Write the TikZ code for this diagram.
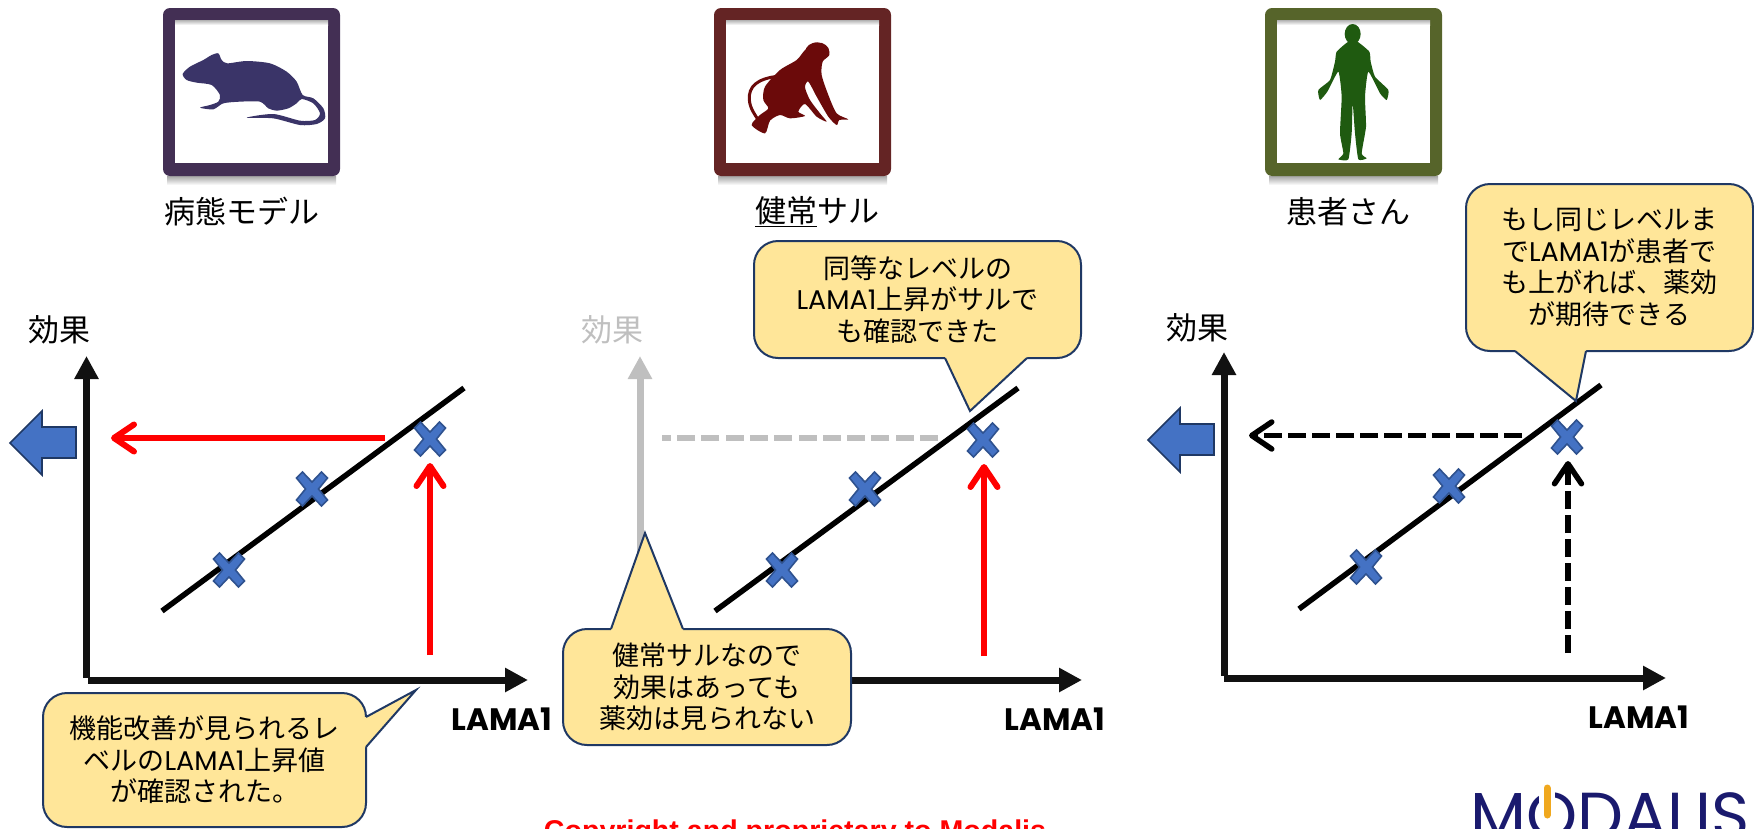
\documentclass[tikz,border=0pt]{standalone}
\usepackage{fontspec}
\setmainfont{Noto Sans CJK JP}
\newfontfamily\latinfont{Poppins}
\newfontfamily\arialfont{Liberation Sans}
\usetikzlibrary{arrows.meta}
\definecolor{calloutfill}{HTML}{FFE699}
\definecolor{calloutline}{HTML}{1F3864}
\definecolor{markblue}{HTML}{4472C4}
\definecolor{markline}{HTML}{2F528F}
\definecolor{axisblack}{HTML}{111111}
\definecolor{axisgrey}{HTML}{BFBFBF}
\definecolor{framerat}{HTML}{432F54}
\definecolor{framemonkey}{HTML}{642424}
\definecolor{framehuman}{HTML}{56642A}
\definecolor{ratfill}{HTML}{3A3468}
\definecolor{monkeyfill}{HTML}{6B0A0A}
\definecolor{humanfill}{HTML}{1F5A10}
\definecolor{logonavy}{HTML}{1A1A6E}
\definecolor{logoorange}{HTML}{F0A81E}
\newcommand{\lama}{{\latinfont LAMA1}}
\tikzset{
  axisline/.style={line width=7pt,axisblack,-{Triangle[length=23pt,width=23pt]}},
  fitline/.style={line width=5.5pt,black},
  guidered/.style={line width=6pt,red,-{Straight Barb[length=20pt,width=27pt,round]}},
  guideblack/.style={line width=5.5pt,black,dash pattern=on 18pt off 6pt,-{Straight Barb[length=20pt,width=27pt,round]}},
  crossmark/.pic={\draw[line width=1.6pt,markline,fill=markblue] (-9.5,-17) -- (0,-7) -- (9.5,-17) -- (15.5,-11) -- (6.5,0) -- (15.5,11) -- (9.5,17) -- (0,7) -- (-9.5,17) -- (-15.5,11) -- (-6.5,0) -- (-15.5,-11) -- cycle;},
  leftblock/.pic={\draw[line width=1.6pt,calloutline,fill=markblue] (0,0) -- (32,-32) -- (32,-16) -- (66,-16) -- (66,15) -- (32,15) -- (32,32) -- cycle;},
  calloutbody/.style={line width=2pt,draw=calloutline,fill=calloutfill,rounded corners=24pt,inner sep=0pt,font=\fontsize{27}{31.5}\selectfont,align=center,text=black},
  tailfill/.style={fill=calloutfill},
  tailedge/.style={line width=2pt,draw=calloutline,line join=miter},
  animallabel/.style={font=\fontsize{31}{36}\selectfont,text=black},
  effectlabel/.style={font=\fontsize{31}{36}\selectfont},
  lamalabel/.style={font=\fontsize{31}{36}\selectfont\bfseries\latinfont}
}
\begin{document}
\begin{tikzpicture}[x=1pt,y=-1pt]
\useasboundingbox (0,0) rectangle (1754,828);
\clip (0,0) rectangle (1754,828);

% picture frames
\foreach \fx/\fcol in {163/framerat,714/framemonkey,1265/framehuman} {
  \shade[top color=black!35,bottom color=white] (\fx+4,176) rectangle (\fx+173,185);
  \fill[\fcol,rounded corners=7pt] (\fx,8) rectangle (\fx+177,176);
  \fill[white] (\fx+12,20) rectangle (\fx+165,163);
  \shade[top color=black!30,bottom color=white] (\fx+12,20) rectangle (\fx+165,25);
}

% mouse
\begin{scope}[shift={(140,0)},scale=1/3]
\fill[ratfill] plot[smooth cycle,tension=0.45] coordinates {(128,222) (150,200) (190,180) (215,165) (235,160) (245,180) (262,190) (320,183) (390,190) (440,215) (470,245) (488,285) (520,295) (550,325) (555,355) (530,372) (480,375) (400,355) (320,353) (400,342) (480,362) (525,360) (540,340) (520,310) (485,297) (470,310) (445,325) (410,332) (385,325) (360,305) (300,305) (250,310) (220,328) (180,323) (210,315) (235,305) (240,285) (215,255) (170,248) (140,240)};
\end{scope}

% monkey
\begin{scope}[shift={(690,0)},scale=1/3]
\fill[monkeyfill] (382,155) ellipse [x radius=36,y radius=28];
\fill[monkeyfill] plot[smooth cycle,tension=0.45] coordinates {(375,128) (410,140) (418,165) (398,185) (395,225) (415,285) (440,340) (475,358) (448,360) (440,375) (415,350) (380,290) (355,245) (345,262) (360,300) (390,340) (410,365) (380,350) (345,312) (325,335) (345,348) (300,355) (270,345) (240,362) (225,400) (185,375) (210,345) (235,325) (220,300) (225,260) (270,210) (320,180) (345,150)};
\draw[monkeyfill,line width=3pt] (270,228) .. controls (200,235) and (175,260) .. (178,300) .. controls (180,325) and (195,345) .. (205,360);
\end{scope}

% person
\begin{scope}[shift={(1240,0)},scale=1/3]
\fill[humanfill] (338,102) ellipse [x radius=24,y radius=30];
\fill[humanfill] plot[smooth cycle,tension=0.3] coordinates {(325,125) (290,155) (285,185) (270,240) (235,270) (240,300) (262,275) (295,215) (305,290) (300,400) (310,460) (295,478) (325,478) (335,400) (338,310) (345,400) (355,478) (380,475) (365,460) (378,380) (375,290) (385,215) (420,280) (440,300) (445,270) (405,230) (392,185) (388,155) (352,125)};
\end{scope}

\node[animallabel] (ratlabel) at (242,212) {病態モデル};
\node[animallabel] (monkeylabel) at (817,212) {\underline{健常}サル};
\node[animallabel] (humanlabel) at (1348,212) {患者さん};

% left panel
\coordinate (orgA) at (86.5,678);
\coordinate (ytipA) at (86.5,356);
\coordinate (xstartA) at (87.5,680);
\coordinate (xtipA) at (528,680);
\coordinate (fitlowA) at (162,611);
\coordinate (fithighA) at (464,388);
\coordinate (redfromA) at (385,438);
\coordinate (redtoA) at (111,438);
\coordinate (upfromA) at (430,655);
\coordinate (uptoA) at (430,463);
\draw[axisline] (orgA) -- (ytipA);
\draw[axisline] (xstartA) -- (xtipA);
\draw[fitline] (fitlowA) -- (fithighA);
\pic at (229,570) {crossmark};
\pic at (312,489) {crossmark};
\pic at (430,439) {crossmark};
\draw[guidered] (redfromA) -- (redtoA);
\draw[guidered] (upfromA) -- (uptoA);
\pic at (10,443) {leftblock};
\node[effectlabel] (effectA) at (59,330) {効果};
\node[lamalabel] (lamaA) at (502,719) {LAMA1};

% middle panel
\coordinate (orgB) at (640,678);
\coordinate (ytipB) at (640,356);
\coordinate (xstartB) at (641,680);
\coordinate (xtipB) at (1082,680);
\coordinate (fitlowB) at (715,611);
\coordinate (fithighB) at (1018,388);
\coordinate (greyfromB) at (938,438);
\coordinate (greytoB) at (662,438);
\coordinate (upfromB) at (984,656);
\coordinate (uptoB) at (984,464);
\draw[axisline,axisgrey] (orgB) -- (ytipB);
\draw[axisline] (xstartB) -- (xtipB);
\draw[fitline] (fitlowB) -- (fithighB);
\draw[line width=5.5pt,axisgrey,dash pattern=on 18pt off 6.3pt] (greyfromB) -- (greytoB);
\pic at (782,570) {crossmark};
\pic at (865,489) {crossmark};
\pic at (983,440) {crossmark};
\draw[guidered] (upfromB) -- (uptoB);
\node[effectlabel,text=axisgrey] (effectB) at (612,330) {効果};
\node[lamalabel] (lamaB) at (1055,719) {LAMA1};

% right panel
\coordinate (orgC) at (1224,675.5);
\coordinate (ytipC) at (1224,352);
\coordinate (xstartC) at (1223.5,678);
\coordinate (xtipC) at (1666,678);
\coordinate (fitlowC) at (1299,609);
\coordinate (fithighC) at (1601,385);
\coordinate (dashfromC) at (1522,435.5);
\coordinate (dashtoC) at (1249,435.5);
\coordinate (upfromC) at (1568,653);
\coordinate (uptoC) at (1568,461);
\draw[axisline] (orgC) -- (ytipC);
\draw[axisline] (xstartC) -- (xtipC);
\draw[fitline] (fitlowC) -- (fithighC);
\pic at (1366,567) {crossmark};
\pic at (1449,486) {crossmark};
\pic at (1567,437) {crossmark};
\draw[guideblack] (dashfromC) -- (dashtoC);
\draw[guideblack] (upfromC) -- (uptoC);
\pic at (1148,440) {leftblock};
\node[effectlabel] (effectC) at (1197,328) {効果};
\node[lamalabel] (lamaC) at (1639,717) {LAMA1};

% callouts
\node[calloutbody,minimum width=323pt,minimum height=134pt] (noteA) at (204.5,760) {\raisebox{4pt}{\parbox{300pt}{\centering 機能改善が見られるレ\\ベルの\lama 上昇値\\が確認された。}}};
\fill[tailfill] (366,717) -- (416,690) -- (366,747) -- (362,747) -- (362,717) -- cycle;
\draw[tailedge] (366,717) -- (416,690) -- (366,747);

\node[calloutbody,minimum width=288pt,minimum height=116pt] (noteB) at (707,687) {健常サルなので\\効果はあっても\\薬効は見られない};
\fill[tailfill] (611,629) -- (645,533) -- (683,629) -- (683,633) -- (611,633) -- cycle;
\draw[tailedge] (611,629) -- (645,533) -- (683,629);

\node[calloutbody,minimum width=327pt,minimum height=117pt] (noteC) at (917.5,299.5) {\raisebox{2pt}{\parbox{300pt}{\centering 同等なレベルの\\\lama 上昇がサルで\\も確認できた}}};
\fill[tailfill] (945,358) -- (970,411) -- (1027,358) -- (1027,354) -- (945,354) -- cycle;
\draw[tailedge] (945,358) -- (970,411) -- (1027,358);

\node[calloutbody,minimum width=287pt,minimum height=167pt] (noteD) at (1609.5,267.5) {もし同じレベルま\\で\lama が患者で\\も上がれば、薬効\\が期待できる};
\fill[tailfill] (1515,351) -- (1576,401) -- (1586,351) -- (1586,347) -- (1515,347) -- cycle;
\draw[tailedge] (1515,351) -- (1576,401) -- (1586,351);

% bottom edge
\node[font=\fontsize{28.6}{34}\selectfont\bfseries\arialfont,text=red,anchor=base] (copyline) at (795,840.5) {Copyright and proprietary to Modalis};
\node[font=\fontsize{65}{72}\selectfont\latinfont,text=logonavy,anchor=base] (logo) at (1610,838) {MODALIS};
\coordinate (barbase) at (1547,815);
\coordinate (bartop) at (1547,788);
\fill[white] (1539,786) rectangle (1555,818);
\draw[logoorange,line width=7pt,line cap=round] (barbase) -- (bartop);
\end{tikzpicture}
\end{document}
